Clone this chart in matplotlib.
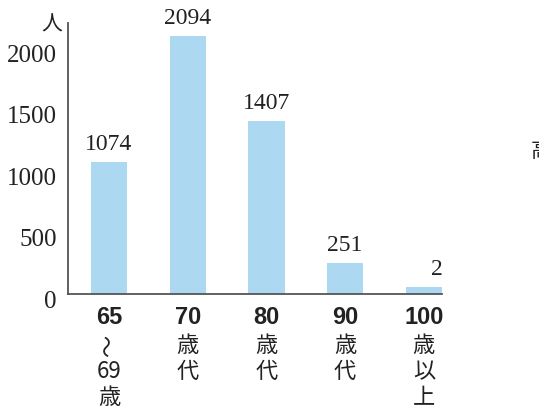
import numpy as np
import matplotlib.pyplot as plt
from matplotlib.transforms import ScaledTranslation

# age groups (number part bold, the rest stacked below)
age_nums = ['65', '70', '80', '90', '100']
age_rest = [['〜', '69', '歳'], ['歳', '代'], ['歳', '代'], ['歳', '代'], ['歳', '以', '上']]
people = [1074, 2094, 1407, 251, 2]
yticks = [0, 500, 1000, 1500, 2000]

bar_color = '#acd9f1'
text_color = '#222222'
serif = 'Liberation Serif'
cjk = ['Noto Sans CJK JP', 'DejaVu Sans']
min_visible = 55  # so the tiny bar is still drawn

fig = plt.figure(figsize=(5.39, 4.08), dpi=100)
ax = fig.add_axes([68 / 539, 114 / 408, 374 / 539, 271 / 408])

x = np.arange(len(people))
heights = np.maximum(people, min_visible)
ax.bar(x, heights, width=0.46, color=bar_color, zorder=1)

# value labels above bars
for xi, h, v in zip(x, heights, people):
    dx = 9 if v < 10 else 0
    ax.annotate(str(v), (xi, h), xytext=(dx, 5), textcoords='offset points',
                ha='center', va='bottom', fontsize=17, family=serif,
                color=text_color)

ax.set_xlim(-0.52, 4.23)
ax.set_ylim(0, 2200)
ax.set_yticks(yticks)
ax.set_yticklabels([str(t) for t in yticks], family=serif, fontsize=18,
                   color=text_color)
ax.tick_params(axis='y', length=0, pad=8)
ax.set_xticks([])
off = ScaledTranslation(0, -4 / 72, fig.dpi_scale_trans)
for lab in ax.get_yticklabels():
    lab.set_transform(lab.get_transform() + off)

for s in ['top', 'right']:
    ax.spines[s].set_visible(False)
for s in ['left', 'bottom']:
    ax.spines[s].set_color('#555555')
    ax.spines[s].set_linewidth(1.3)

# stacked category labels below the axis
trans = ax.get_xaxis_transform()
for xi, num, rest in zip(x, age_nums, age_rest):
    ax.annotate(num, (xi, 0), xycoords=trans, xytext=(0, -17),
                textcoords='offset points', ha='center', va='center',
                fontsize=17, fontweight='bold', family='Liberation Sans',
                color=text_color, annotation_clip=False)
    for k, ch in enumerate(rest):
        rot = 90 if ch == '〜' else 0
        ax.annotate(ch, (xi, 0), xycoords=trans, xytext=(0, -37 - 18.7 * k),
                    textcoords='offset points', ha='center', va='center',
                    fontsize=16, family=cjk, color=text_color, rotation=rot,
                    annotation_clip=False)

# unit label
ax.text(-0.043, 0.993, '人', transform=ax.transAxes, ha='center', va='center',
        fontsize=15, family=cjk, color=text_color)

# cut-off character on the right edge
fig.text(531 / 539, 1 - 151 / 408, '高', ha='left', va='center',
         fontsize=15, family=cjk, color=text_color)

fig.savefig('out.png', dpi=100)
